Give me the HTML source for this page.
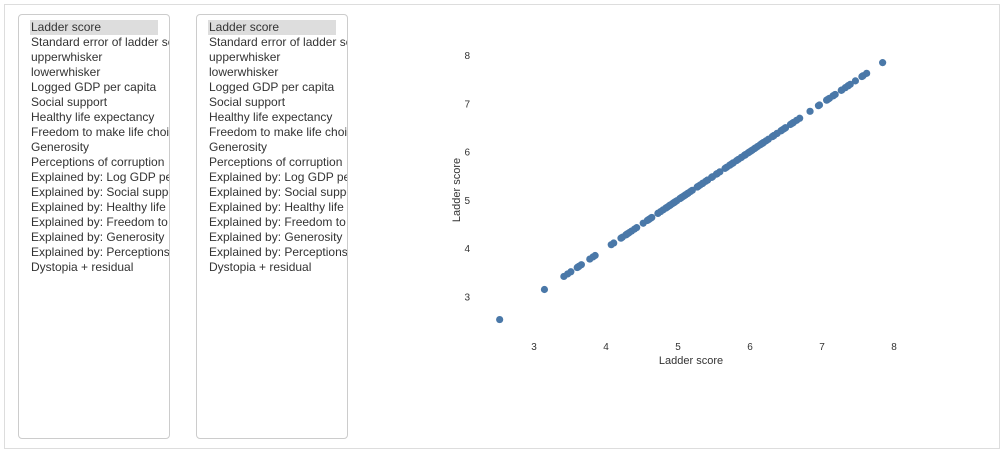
<!DOCTYPE html>
<html><head><meta charset="utf-8"><style>
body{margin:0;width:1004px;height:456px;background:#fff;font-family:"Liberation Sans",sans-serif;position:relative;overflow:hidden}
#outer{position:absolute;left:4px;top:4px;width:994px;height:443px;border:1px solid #ddd}
.box{position:absolute;top:14px;width:150px;height:423px;border:1px solid #ccc;border-radius:4px;overflow:hidden;box-sizing:content-box}
.box div{position:absolute;left:12px;white-space:nowrap;font-size:12px;color:#333;height:15px;line-height:15px}
.box div.sel{background:#ddd;width:127px;padding-left:1px;left:11px}
</style></head><body>
<div id="outer"></div>
<div class="box" id="b1" style="left:18px"></div>
<div class="box" id="b2" style="left:196px"></div>
<svg id="chart" width="1004" height="456" style="position:absolute;left:0;top:0"></svg>
<script>
const items=["Ladder score","Standard error of ladder score","upperwhisker","lowerwhisker","Logged GDP per capita","Social support","Healthy life expectancy","Freedom to make life choices","Generosity","Perceptions of corruption","Explained by: Log GDP per capita","Explained by: Social support","Explained by: Healthy life expectancy","Explained by: Freedom to make life choices","Explained by: Generosity","Explained by: Perceptions of corruption","Dystopia + residual"];
["b1","b2"].forEach(id=>{const b=document.getElementById(id);items.forEach((t,i)=>{const d=document.createElement('div');


d.textContent=t;d.style.top=(5+i*15)+'px';if(i===0)d.className='sel';b.appendChild(d);});});

const ladderScores=[7.842,7.620,7.571,7.554,7.464,7.392,7.365,7.363,7.324,7.277,7.268,7.183,7.157,7.155,7.103,7.085,7.069,7.064,6.965,6.951,6.834,6.690,6.647,6.602,6.584,6.561,6.494,6.491,6.483,6.461,6.435,6.431,6.377,6.372,6.331,6.330,6.317,6.309,6.255,6.223,6.189,6.180,6.179,6.172,6.166,6.152,6.140,6.106,6.078,6.061,6.032,6.012,5.992,5.985,5.972,5.940,5.930,5.929,5.929,5.919,5.882,5.880,5.840,5.813,5.766,5.764,5.744,5.723,5.716,5.677,5.653,5.581,5.545,5.536,5.534,5.477,5.477,5.466,5.411,5.410,5.384,5.345,5.342,5.339,5.306,5.283,5.269,5.266,5.198,5.171,5.142,5.132,5.117,5.101,5.088,5.066,5.053,5.045,5.030,5.025,4.984,4.956,4.948,4.934,4.918,4.892,4.891,4.887,4.875,4.852,4.834,4.830,4.794,4.759,4.723,4.721,4.636,4.625,4.607,4.596,4.584,4.574,4.517,4.426,4.395,4.355,4.325,4.308,4.289,4.283,4.275,4.227,4.208,4.107,4.073,3.849,3.819,3.775,3.658,3.623,3.615,3.600,3.512,3.467,3.415,3.145,2.523];
const xValues=ladderScores;
const yValues=ladderScores;
const xTicks=[3,4,5,6,7,8];
const yTicks=[3,4,5,6,7,8];

const NS="http://www.w3.org/2000/svg";
const svg=document.getElementById('chart');
const xs=v=>534+(v-3)*72;
const ys=v=>55+(8-v)*48.3;
function el(tag,attrs,txt){const e=document.createElementNS(NS,tag);for(const k in attrs)e.setAttribute(k,attrs[k]);if(txt!=null)e.textContent=txt;svg.appendChild(e);return e;}
xTicks.forEach(t=>{const e=el('text',{x:xs(t),y:350,'font-size':10,fill:'#333','text-anchor':'middle'},t);

});
yTicks.forEach(t=>{const e=el('text',{x:470,y:ys(t)+4,'font-size':10,fill:'#333','text-anchor':'end'},t);

});
const xt=el('text',{x:691,y:364,'font-size':11,fill:'#333','text-anchor':'middle'},'Ladder score');


const yt=el('text',{x:0,y:0,'font-size':11,fill:'#333','text-anchor':'middle',transform:'translate(460,190) rotate(-90)'},'Ladder score');


xValues.forEach((v,i)=>{const c=el('circle',{cx:xs(v),cy:ys(yValues[i]),r:3.6,fill:'#4a78a8'});

});
</script>
</body></html>
